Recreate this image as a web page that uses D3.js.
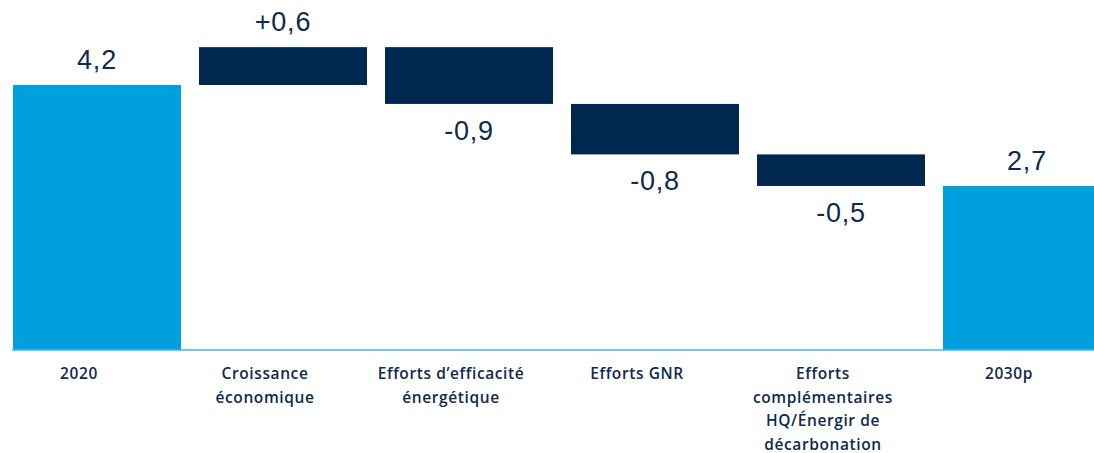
<!DOCTYPE html>
<html>
<head>
<meta charset="utf-8">
<script src="https://cdn.jsdelivr.net/npm/d3@7"></script>
<style>
  html, body { margin: 0; padding: 0; background: #ffffff; }
  svg { display: block; }
</style>
</head>
<body>
<svg id="chart" width="1094" height="453"></svg>
<script>
// ---- Data ----
const categories = ["2020", "Croissance économique", "Efforts d’efficacité énergétique", "Efforts GNR", "Efforts complémentaires HQ/Énergir de décarbonation", "2030p"];
const categoryLines = [
  ["2020"],
  ["Croissance", "économique"],
  ["Efforts d’efficacité", "énergétique"],
  ["Efforts GNR"],
  ["Efforts", "complémentaires", "HQ/Énergir de", "décarbonation"],
  ["2030p"]
];
const startValue = 4.2;
const deltas = [0.6, -0.9, -0.8, -0.5];
const endValue = 2.6;
const valueLabels = ["4,2", "+0,6", "-0,9", "-0,8", "-0,5", "2,7"];

// ---- Build waterfall segments ----
const segments = [];
let running = startValue;
segments.push({ cat: categories[0], y0: 0, y1: startValue, kind: "total", label: valueLabels[0], lines: categoryLines[0] });
deltas.forEach((d, i) => {
  const prev = running;
  running = running + d;
  segments.push({ cat: categories[i + 1], y0: prev, y1: running, kind: "delta", delta: d, label: valueLabels[i + 1], lines: categoryLines[i + 1] });
});
segments.push({ cat: categories[5], y0: 0, y1: endValue, kind: "total", label: valueLabels[5], lines: categoryLines[5] });

// ---- Scales ----
const svg = d3.select("#chart");
const x = d3.scaleBand().domain(categories).range([13, 1111]).paddingInner(18 / 186).paddingOuter(0);
const y = d3.scaleLinear().domain([0, 4.2]).range([350, 85]);

const lightBlue = "#00a0df";
const navy = "#00274f";
const textColor = "#0e2a4f";

// ---- Bars ----
svg.append("g").selectAll("rect").data(segments).join("rect")
  .attr("x", d => x(d.cat))
  .attr("width", x.bandwidth())
  .attr("y", d => y(Math.max(d.y0, d.y1)))
  .attr("height", d => Math.abs(y(d.y0) - y(d.y1)))
  .attr("fill", d => d.kind === "total" ? lightBlue : navy);

// ---- Baseline ----
svg.append("line")
  .attr("x1", x(categories[0]) - 1).attr("x2", 1094)
  .attr("y1", y(0)).attr("y2", y(0))
  .attr("stroke", "#3db7ea").attr("stroke-width", 1.5);

// ---- Value labels ----
svg.append("g").selectAll("text").data(segments).join("text")
  .attr("x", d => x(d.cat) + x.bandwidth() / 2)
  .attr("y", d => (d.kind === "delta" && d.delta < 0) ? y(Math.min(d.y0, d.y1)) + 36 : y(Math.max(d.y0, d.y1)) - 16)
  .attr("text-anchor", "middle")
  .attr("font-family", "'Liberation Sans', Arial, sans-serif")
  .attr("font-size", 27)
  .attr("letter-spacing", 0.8)
  .attr("fill", textColor)
  .text(d => d.label);

// ---- Category labels ----
const catG = svg.append("g");
segments.forEach(d => {
  const cx = x(d.cat) + x.bandwidth() / 2 - 18;
  const t = catG.append("text")
    .attr("x", cx)
    .attr("y", 379)
    .attr("text-anchor", "middle")
    .attr("font-family", "'Open Sans', sans-serif")
    .attr("font-weight", 600)
    .attr("font-size", 15.5)
    .attr("letter-spacing", 0.6)
    .attr("fill", textColor);
  d.lines.forEach((ln, i) => {
    t.append("tspan")
      .attr("x", cx)
      .attr("dy", i === 0 ? 0 : 23.5)
      .text(ln);
  });
});
</script>
</body>
</html>
